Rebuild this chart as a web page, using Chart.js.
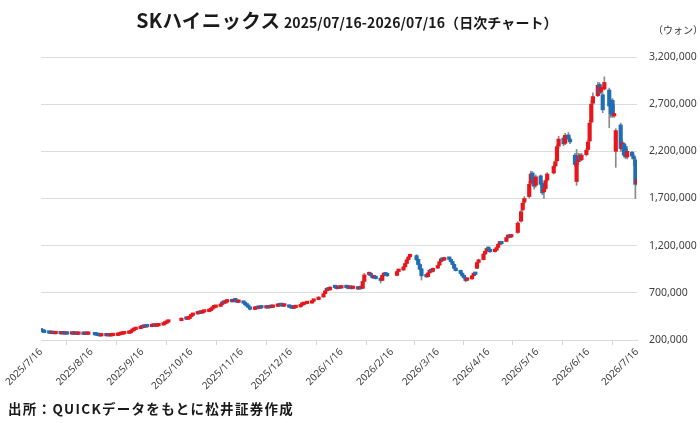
<!DOCTYPE html>
<html lang="ja">
<head>
<meta charset="utf-8">
<script src="https://cdn.jsdelivr.net/npm/chart.js@4.4.1/dist/chart.umd.min.js"></script>
<style>
  body { margin: 0; background: #fff; }
  #wrap { position: relative; width: 700px; height: 423px; font-family: "Noto Sans CJK JP", sans-serif; color: #1a1a1a; }
  canvas { position: absolute; left: 0; top: 0; }
  #title { position: absolute; top: 5px; left: 0; width: 694px; text-align: center; font-weight: bold; white-space: nowrap; }
  #title .name { font-size: 19.5px; letter-spacing: 0.3px; }
  #title .sub { font-size: 14px; letter-spacing: 0.1px; }
  #unit { position: absolute; left: 653px; top: 22px; font-size: 10px; color: #333; }
  #source { position: absolute; left: 8px; top: 398px; font-size: 13.5px; font-weight: bold; letter-spacing: 1.3px; }
</style>
</head>
<body>
<div id="wrap">
  <canvas id="chart" width="700" height="423"></canvas>
  <div id="title"><span class="name">SKハイニックス</span> <span class="sub">2025/07/16-2026/07/16（日次チャート）</span></div>
  <div id="unit">（ウォン）</div>
  <div id="source">出所：QUICKデータをもとに松井証券作成</div>
</div>
<script>
// trading days, one line per month
const dates = [
  '2025-07-16','2025-07-17','2025-07-18','2025-07-21','2025-07-22','2025-07-23','2025-07-24','2025-07-25','2025-07-28','2025-07-29','2025-07-30','2025-07-31',
  '2025-08-01','2025-08-04','2025-08-05','2025-08-06','2025-08-07','2025-08-08','2025-08-11','2025-08-12','2025-08-13','2025-08-14','2025-08-18','2025-08-19','2025-08-20','2025-08-21','2025-08-22','2025-08-25','2025-08-26','2025-08-27','2025-08-28','2025-08-29',
  '2025-09-01','2025-09-02','2025-09-03','2025-09-04','2025-09-05','2025-09-08','2025-09-09','2025-09-10','2025-09-11','2025-09-12','2025-09-15','2025-09-16','2025-09-17','2025-09-18','2025-09-19','2025-09-22','2025-09-23','2025-09-24','2025-09-25','2025-09-26','2025-09-29','2025-09-30',
  '2025-10-01','2025-10-02','2025-10-10','2025-10-13','2025-10-14','2025-10-15','2025-10-16','2025-10-17','2025-10-20','2025-10-21','2025-10-22','2025-10-23','2025-10-24','2025-10-27','2025-10-28','2025-10-29','2025-10-30','2025-10-31',
  '2025-11-03','2025-11-04','2025-11-05','2025-11-06','2025-11-07','2025-11-10','2025-11-11','2025-11-12','2025-11-13','2025-11-14','2025-11-17','2025-11-18','2025-11-19','2025-11-20','2025-11-21','2025-11-24','2025-11-25','2025-11-26','2025-11-27','2025-11-28',
  '2025-12-01','2025-12-02','2025-12-03','2025-12-04','2025-12-05','2025-12-08','2025-12-09','2025-12-10','2025-12-11','2025-12-12','2025-12-15','2025-12-16','2025-12-17','2025-12-18','2025-12-19','2025-12-22','2025-12-23','2025-12-24','2025-12-26','2025-12-29','2025-12-30',
  '2026-01-02','2026-01-05','2026-01-06','2026-01-07','2026-01-08','2026-01-09','2026-01-12','2026-01-13','2026-01-14','2026-01-15','2026-01-16','2026-01-19','2026-01-20','2026-01-21','2026-01-22','2026-01-23','2026-01-26','2026-01-27','2026-01-28','2026-01-29','2026-01-30',
  '2026-02-02','2026-02-03','2026-02-04','2026-02-05','2026-02-06','2026-02-09','2026-02-10','2026-02-11','2026-02-12','2026-02-13','2026-02-19','2026-02-20','2026-02-23','2026-02-24','2026-02-25','2026-02-26','2026-02-27',
  '2026-03-03','2026-03-04','2026-03-05','2026-03-06','2026-03-09','2026-03-10','2026-03-11','2026-03-12','2026-03-13','2026-03-16','2026-03-17','2026-03-18','2026-03-19','2026-03-20','2026-03-23','2026-03-24','2026-03-25','2026-03-26','2026-03-27','2026-03-30','2026-03-31',
  '2026-04-01','2026-04-02','2026-04-03','2026-04-06','2026-04-07','2026-04-08','2026-04-09','2026-04-10','2026-04-13','2026-04-14','2026-04-15','2026-04-16','2026-04-17','2026-04-20','2026-04-21','2026-04-22','2026-04-23','2026-04-24','2026-04-27','2026-04-28','2026-04-29','2026-04-30',
  '2026-05-04','2026-05-06','2026-05-07','2026-05-08','2026-05-11','2026-05-12','2026-05-13','2026-05-14','2026-05-15','2026-05-18','2026-05-19','2026-05-20','2026-05-21','2026-05-22','2026-05-26','2026-05-27','2026-05-28','2026-05-29',
  '2026-06-01','2026-06-02','2026-06-04','2026-06-05','2026-06-08','2026-06-09','2026-06-10','2026-06-11','2026-06-12','2026-06-15','2026-06-16','2026-06-17','2026-06-18','2026-06-19','2026-06-22','2026-06-23','2026-06-24','2026-06-25','2026-06-26','2026-06-29','2026-06-30',
  '2026-07-01','2026-07-02','2026-07-03','2026-07-06','2026-07-07','2026-07-08','2026-07-09','2026-07-10','2026-07-13','2026-07-14','2026-07-15','2026-07-16'
];

// prices in thousand won
const open = [
  305,296,286,279,272,268,271,266,268,265,268,263,
  266,262,264,261,263,260,262,259,262,260,262,255,250,246,243,246,244,247,243,246,
  248,252,258,262,265,270,276,291,301,311,320,329,338,335,342,341,348,352,345,350,358,369,
  378,389,405,428,419,426,446,461,476,481,491,486,496,501,511,526,541,546,
  556,576,601,591,603,618,606,624,614,599,608,589,574,559,544,524,531,541,536,544,
  539,549,541,553,546,556,561,571,564,559,561,547,541,536,543,551,569,576,586,591,611,
  628,656,691,721,744,731,761,754,746,759,751,764,754,749,759,746,753,741,751,748,822,
  892,906,881,858,871,852,832,884,896,891,885,926,942,976,1011,1052,1082,
  1095,1055,1002,955,885,872,912,942,928,962,993,1032,1062,1047,1072,1056,1032,1002,962,938,908,
  878,862,832,848,882,907,960,1022,1052,1112,1142,1172,1162,1137,1152,1182,1217,1235,1245,1287,1302,1292,
  1340,1460,1580,1660,1720,1860,1970,1910,1840,1940,1860,1770,1805,1895,1970,2045,2100,2255,
  2340,2285,2375,2330,2160,1880,2090,2160,2110,2165,2220,2310,2510,2710,2790,2910,2830,2800,2860,2850,2700,
  2740,2575,2200,2480,2225,2280,2250,2140,2190,2150,2110,1860
];
const high = [
  308,298,289,281,275,273,273,270,270,270,270,268,
  268,266,266,265,265,264,264,264,264,265,263,257,252,248,248,248,249,249,248,250,
  254,260,264,267,270,277,292,303,313,325,331,340,341,344,345,350,355,354,352,358,370,380,
  392,398,435,432,430,450,465,478,485,495,493,498,505,515,530,545,552,556,
  580,610,605,620,628,620,632,628,618,615,610,592,578,562,548,535,545,546,550,548,
  552,552,556,556,558,565,574,575,568,565,563,550,545,546,553,572,580,590,595,615,630,
  660,695,725,752,748,765,768,760,765,762,770,768,758,765,762,756,756,755,755,825,905,
  920,912,888,878,875,856,892,902,900,895,932,950,982,1018,1058,1090,1110,
  1105,1060,1010,960,895,915,948,948,965,995,1035,1068,1068,1078,1078,1060,1035,1008,968,942,915,
  885,868,850,888,912,912,1025,1058,1118,1148,1178,1180,1168,1155,1188,1222,1240,1240,1290,1308,1305,1318,
  1455,1575,1665,1720,1880,1990,1985,1925,1950,1950,1875,1820,1905,1975,2055,2110,2270,2360,
  2360,2390,2400,2350,2180,2220,2180,2175,2180,2230,2320,2530,2740,2820,2930,2930,2900,2820,2990,2870,2750,
  2760,2690,2440,2500,2320,2290,2275,2220,2200,2170,2130,1930
];
const low = [
  293,284,276,270,266,266,264,264,263,263,261,261,
  260,260,259,259,258,258,257,257,258,258,253,248,244,241,241,242,242,241,241,244,
  246,250,256,260,263,268,274,288,299,309,318,327,333,333,338,339,346,343,343,348,356,366,
  375,385,402,415,415,422,442,457,472,478,482,483,492,498,508,522,535,540,
  552,572,585,588,598,600,602,610,595,595,585,570,555,540,518,520,528,530,533,535,
  535,537,538,542,543,553,558,562,555,555,545,537,532,533,540,548,565,572,582,588,608,
  625,652,688,718,725,728,750,740,742,745,748,750,742,745,740,742,735,738,740,745,818,
  885,875,852,852,845,805,828,878,882,875,880,920,938,972,1005,1045,1075,
  1040,995,940,835,862,866,905,918,920,958,988,1028,1040,1042,1050,1025,995,950,930,890,872,
  852,815,826,842,876,888,955,1015,1048,1105,1135,1150,1128,1130,1148,1178,1210,1212,1240,1280,1282,1285,
  1330,1450,1570,1640,1705,1840,1880,1800,1820,1840,1740,1700,1790,1880,1960,2030,2090,2230,
  2260,2270,2310,2280,2040,1840,2060,2090,2100,2150,2210,2300,2500,2700,2780,2800,2810,2610,2850,2450,2560,
  2560,2560,2030,2200,2200,2140,2120,2120,2120,2050,1700,1840
];
const close = [
  296,286,279,272,268,271,266,268,265,268,263,266,
  262,264,261,263,260,262,259,262,260,263,255,250,246,243,246,244,247,243,246,248,
  252,258,262,265,268,275,290,300,310,322,328,338,335,342,340,348,352,345,350,355,368,376,
  388,395,430,420,425,445,460,475,480,490,485,495,500,510,525,540,545,550,
  575,600,590,615,620,605,625,615,600,610,590,575,560,545,525,530,540,535,545,540,
  548,540,552,545,555,560,570,565,558,562,548,540,535,542,550,568,575,585,590,610,625,
  655,690,720,745,730,760,755,745,760,750,765,755,748,760,745,752,740,750,745,820,890,
  905,880,860,870,850,830,885,895,890,880,925,940,975,1010,1050,1080,1100,
  1050,1000,950,880,870,910,940,925,960,990,1030,1060,1045,1070,1055,1030,1000,960,935,905,880,
  860,830,845,880,905,895,1020,1050,1110,1140,1170,1160,1135,1150,1180,1215,1230,1220,1285,1300,1290,1310,
  1440,1560,1650,1700,1850,1960,1900,1830,1930,1850,1760,1800,1890,1960,2040,2090,2250,2330,
  2280,2370,2330,2300,2060,2080,2150,2110,2160,2210,2300,2500,2700,2780,2900,2820,2880,2640,2930,2680,2600,
  2580,2600,2420,2230,2290,2160,2140,2200,2150,2120,1850,1900
];

const tickLabels = ['2025/7/16','2025/8/16','2025/9/16','2025/10/16','2025/11/16','2025/12/16','2026/1/16',
  '2026/2/16','2026/3/16','2026/4/16','2026/5/16','2026/6/16','2026/7/16'];
const yTicks = [200, 700, 1200, 1700, 2200, 2700, 3200];
const yTickLabels = ['200,000','700,000','1,200,000','1,700,000','2,200,000','2,700,000','3,200,000'];

const RED = '#e8151b';
const BLUE = '#1f6db5';
const WICK = '#8a8a8a';

// days since the first date, so the x axis runs on calendar time
function dayOf(s) {
  const p = s.split(/[-\/]/).map(Number);
  return (Date.UTC(p[0], p[1] - 1, p[2]) - Date.UTC(2025, 6, 16)) / 864e5;
}
const tickDays = tickLabels.map(dayOf);

const bodies = dates.map((d, i) => ({ x: dayOf(d), y: [open[i], close[i]] }));
const wicks = dates.map((d, i) => ({ x: dayOf(d), y: [low[i], high[i]] }));
const bodyColors = dates.map((d, i) => close[i] >= open[i] ? RED : BLUE);

Chart.defaults.font.family = '"Noto Sans", "Noto Sans CJK JP", sans-serif';

new Chart(document.getElementById('chart').getContext('2d'), {
  type: 'bar',
  data: {
    datasets: [
      { data: bodies, backgroundColor: bodyColors, barThickness: 3.5, grouped: false, minBarLength: 2.5 },
      { data: wicks, backgroundColor: WICK, barThickness: 1, grouped: false }
    ]
  },
  options: {
    responsive: false,
    animation: false,
    layout: { padding: { left: 41, top: 57, right: 0, bottom: 0 } },
    plugins: { legend: { display: false }, tooltip: { enabled: false } },
    scales: {
      x: {
        type: 'linear', min: 0, max: 365, offset: false,
        afterBuildTicks: s => { s.ticks = tickDays.map(v => ({ value: v })); },
        afterFit: s => { s.height = 83; },
        ticks: {
          autoSkip: false, minRotation: 45, maxRotation: 45, padding: 1,
          color: '#404040', font: { size: 10 },
          callback: (v, i) => tickLabels[i]
        },
        grid: { drawOnChartArea: false, tickLength: 5, color: '#d6d6d6' },
        border: { color: '#d9d9d9' }
      },
      y: {
        position: 'right', min: 200, max: 3200,
        afterBuildTicks: s => { s.ticks = yTicks.map(v => ({ value: v })); },
        afterFit: s => { s.width = 63; },
        ticks: {
          padding: 12, crossAlign: 'near', color: '#404040', font: { size: 10.5 },
          callback: (v, i) => yTickLabels[i]
        },
        grid: { color: '#dcdcdc', drawTicks: false },
        border: { display: false }
      }
    }
  }
});
</script>
</body>
</html>
